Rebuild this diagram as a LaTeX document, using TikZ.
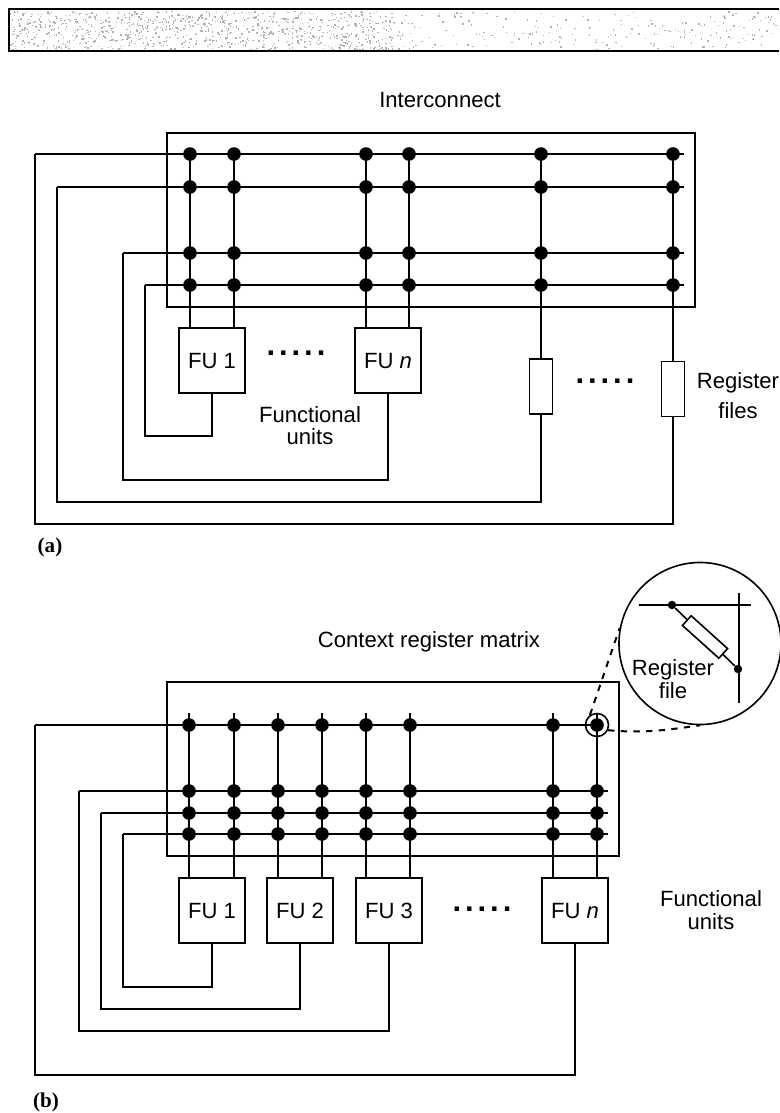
\documentclass[tikz,border=0pt]{standalone}
\usepackage{fontspec}
\setmainfont{Liberation Sans}
\newfontfamily\capfont{Liberation Serif}
\newcommand{\fivedots}{\fontsize{22}{22}\selectfont\textbf{.\hspace{2.8pt}.\hspace{2.8pt}.\hspace{2.8pt}.\hspace{2.8pt}.}}

\begin{document}
\begin{tikzpicture}[
    x=0.025cm, y=-0.025cm,
    every node/.style={font=\fontsize{15.7}{16}\selectfont,text=black,inner sep=0pt},
    dot/.style={fill=black, circle, minimum size=0.34cm},
    smalldot/.style={fill=black, circle, minimum size=0.21cm},
    wire/.style={draw=black, line width=1.15pt},
    bus/.style={draw=black, line width=1.45pt},
    fubox/.style={draw=black, fill=white, line width=1.15pt, minimum width=1.65cm, minimum height=1.63cm, text height=11pt, text depth=0pt},
    regbox/.style={draw=black, fill=white, line width=1.15pt, minimum width=0.575cm, minimum height=1.37cm},
    panelcap/.style={font=\capfont\bfseries\fontsize{15}{18}\selectfont},
    zoomline/.style={draw=black, line width=1.4pt, dash pattern=on 4.5pt off 4.5pt}
  ]
  \useasboundingbox (0,0) rectangle (779,1113);

  %--------------------------------------
  % Speckled band at the top
  %--------------------------------------
  \pgfmathsetseed{11}
  \foreach \i in {1,...,950} {
    \pgfmathsetmacro\bx{10+rnd*385}
    \pgfmathsetmacro\by{11+rnd*38}
    \fill[black!30] (\bx,\by) rectangle +(1.4,1.4);
  }
  \foreach \i in {1,...,220} {
    \pgfmathsetmacro\bx{395+rnd*383}
    \pgfmathsetmacro\by{11+rnd*38}
    \fill[black!30] (\bx,\by) rectangle +(1.4,1.4);
  }
  \draw[bus] (779,9) -- (9,9) -- (9,51) -- (779,51);

  %--------------------------------------
  % (a) Interconnect
  %--------------------------------------
  \node (ictitle) at (440,100) {Interconnect};
  \draw[wire] (167,133) rectangle (695,307);

  % Rows: left end, right end, lower corner
  \coordinate (La1) at (35,154);  \coordinate (Ea1) at (684,154); \coordinate (Ba1) at (35,524);
  \coordinate (La2) at (57,187);  \coordinate (Ea2) at (684,187); \coordinate (Ba2) at (57,502);
  \coordinate (La3) at (123,253); \coordinate (Ea3) at (684,253); \coordinate (Ba3) at (123,480);
  \coordinate (La4) at (145,285); \coordinate (Ea4) at (684,285); \coordinate (Ba4) at (145,436);

  % Columns
  \coordinate (Ca1) at (190,154);
  \coordinate (Ca2) at (234,154);
  \coordinate (Ca3) at (366,154);
  \coordinate (Ca4) at (409,154);
  \coordinate (Ca5) at (541,154);
  \coordinate (Ca6) at (673,154);

  % Functional units and register files
  \node[fubox] (FUa1) at (212,360.5) {FU 1};
  \node[fubox] (FUan) at (388,360.5) {FU \textit{n}};
  \node[regbox] (RFa1) at (541,386.5) {};
  \node[regbox] (RFa2) at (673,389) {};

  % Columns into the boxes
  \draw[bus] (Ca1) -- (Ca1 |- FUa1.north);
  \draw[bus] (Ca2) -- (Ca2 |- FUa1.north);
  \draw[bus] (Ca3) -- (Ca3 |- FUan.north);
  \draw[bus] (Ca4) -- (Ca4 |- FUan.north);
  \draw[bus] (Ca5) -- (Ca5 |- RFa1.north);
  \draw[bus] (Ca6) -- (Ca6 |- RFa2.north);

  % Feedback from the boxes to the rows
  \draw[wire] (RFa2.south) |- (Ba1) -- (La1);
  \draw[wire] (RFa1.south) |- (Ba2) -- (La2);
  \draw[wire] (FUan.south) |- (Ba3) -- (La3);
  \draw[wire] (FUa1.south) |- (Ba4) -- (La4);
  \draw[bus] (La1) -- (Ea1);
  \draw[bus] (La2) -- (Ea2);
  \draw[bus] (La3) -- (Ea3);
  \draw[bus] (La4) -- (Ea4);

  % Junctions
  \foreach \c in {1,...,6}
    \foreach \r in {1,...,4}
      \node[dot] (Ja\c\r) at (Ca\c |- La\r) {};

  % Labels
  \node (dotsa1) at (296,353) {\fivedots};
  \node (dotsa2) at (605,381) {\fivedots};
  \node[align=center] (fulabela) at (310,425.5) {Functional\\units};
  \node[align=center] (rflabel) at (738,395.5) {Register\\[5pt]files};
  \node[panelcap] (capa) at (50,547) {(a)};

  %--------------------------------------
  % (b) Context register matrix
  %--------------------------------------
  \node (crmtitle) at (429,642) {Context register matrix};
  \draw[wire] (167,682) rectangle (619,856);

  % Rows: left end, right end, lower corner
  \coordinate (Lb1) at (35,725);  \coordinate (Eb1) at (597,725); \coordinate (Bb1) at (35,1075);
  \coordinate (Lb2) at (79,791);  \coordinate (Eb2) at (608,791); \coordinate (Bb2) at (79,1031);
  \coordinate (Lb3) at (101,813); \coordinate (Eb3) at (608,813); \coordinate (Bb3) at (101,1009);
  \coordinate (Lb4) at (123,834); \coordinate (Eb4) at (608,834); \coordinate (Bb4) at (123,987);

  % Columns (upper ends stick out above the first row)
  \coordinate (Cb1) at (189,713);
  \coordinate (Cb2) at (234,713);
  \coordinate (Cb3) at (278,713);
  \coordinate (Cb4) at (322,713);
  \coordinate (Cb5) at (366,713);
  \coordinate (Cb6) at (410,713);
  \coordinate (Cb7) at (553,713);
  \coordinate (Cb8) at (597,713);

  % Functional units
  \node[fubox] (FUb1) at (212,910.5) {FU 1};
  \node[fubox] (FUb2) at (300,910.5) {FU 2};
  \node[fubox] (FUb3) at (389,910.5) {FU 3};
  \node[fubox] (FUbn) at (575,910.5) {FU \textit{n}};

  % Columns into the boxes
  \draw[bus] (Cb1) -- (Cb1 |- FUb1.north);
  \draw[bus] (Cb2) -- (Cb2 |- FUb1.north);
  \draw[bus] (Cb3) -- (Cb3 |- FUb2.north);
  \draw[bus] (Cb4) -- (Cb4 |- FUb2.north);
  \draw[bus] (Cb5) -- (Cb5 |- FUb3.north);
  \draw[bus] (Cb6) -- (Cb6 |- FUb3.north);
  \draw[bus] (Cb7) -- (Cb7 |- FUbn.north);
  \draw[bus] (Cb8) -- (Cb8 |- FUbn.north);

  % Feedback from the boxes to the rows
  \draw[wire] (FUbn.south) |- (Bb1) -- (Lb1);
  \draw[wire] (FUb3.south) |- (Bb2) -- (Lb2);
  \draw[wire] (FUb2.south) |- (Bb3) -- (Lb3);
  \draw[wire] (FUb1.south) |- (Bb4) -- (Lb4);
  \draw[bus] (Lb1) -- (Eb1);
  \draw[bus] (Lb2) -- (Eb2);
  \draw[bus] (Lb3) -- (Eb3);
  \draw[bus] (Lb4) -- (Eb4);

  % Junctions
  \foreach \c in {1,...,8}
    \foreach \r in {1,...,4}
      \node[dot] (Jb\c\r) at (Cb\c |- Lb\r) {};

  % Labels
  \node (dotsb) at (482,909) {\fivedots};
  \node[align=center] (fulabelb) at (711,910) {Functional\\units};
  \node[panelcap] (capb) at (46,1102) {(b)};

  %--------------------------------------
  % Magnifier on the last junction of the first row
  %--------------------------------------
  \node[draw=black, line width=1.15pt, circle, minimum size=0.575cm] (ring) at (Jb81) {};
  \node[draw=black, line width=1.15pt, circle, minimum size=4.05cm] (lens) at (700,643.5) {};
  \draw[zoomline] (ring.125) -- (lens.169);
  \draw[zoomline] (ring.-25) to[out=-5, in=-172] (lens.south);

  % Inside the magnifier
  \coordinate (ZL) at (639,605);
  \coordinate (ZR) at (751,605);
  \coordinate (ZT) at (739,593);
  \coordinate (ZB) at (739,703);
  \draw[wire] (ZL) -- (ZR);
  \draw[wire] (ZT) -- (ZB);
  \node[smalldot] (ZA) at (672,605) {};
  \node[smalldot] (ZC) at (738,669) {};
  \draw[wire] (ZA) -- (ZC);
  \node[draw=black, fill=white, line width=1.15pt, rotate=-42, minimum width=1.225cm, minimum height=0.325cm] (RFz) at (705,637) {};
  \node[align=center] (rfz) at (673,679) {Register\\file};

\end{tikzpicture}
\end{document}
